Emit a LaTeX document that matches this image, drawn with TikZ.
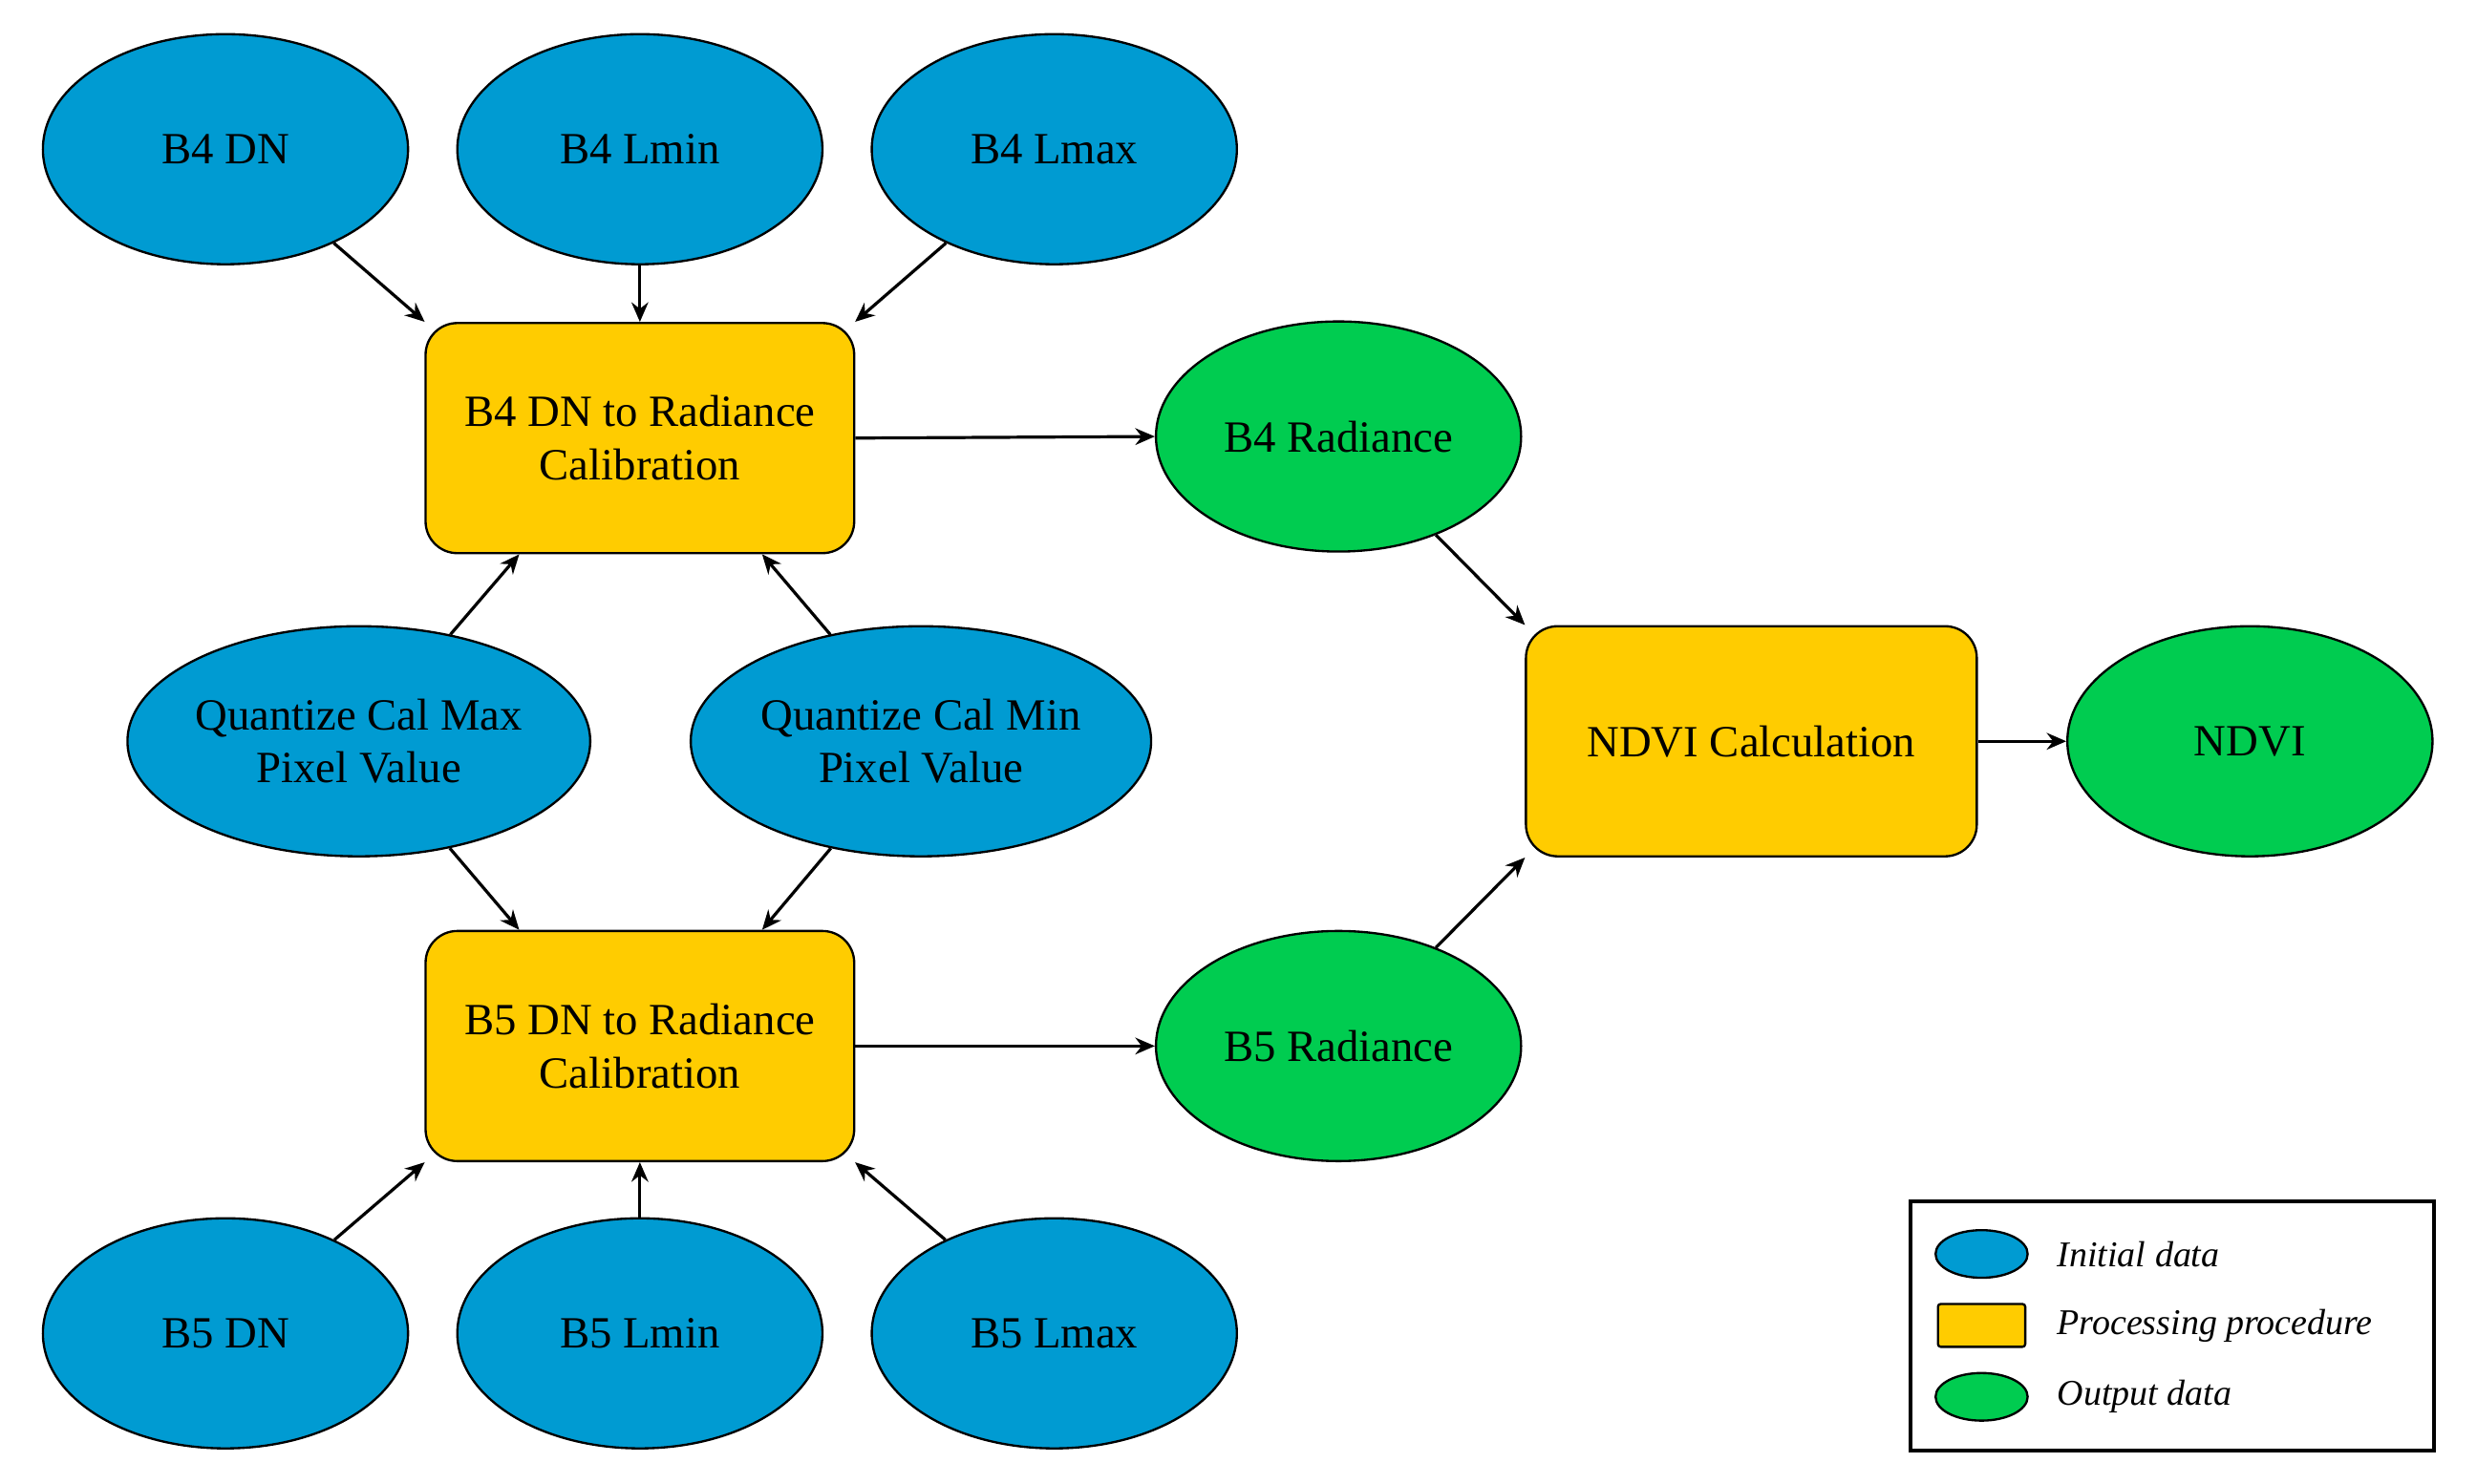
\documentclass[tikz,border=0pt]{standalone}
\usepackage{fontspec}
\setmainfont{Liberation Serif}
\usetikzlibrary{shapes.geometric,arrows.meta}
\definecolor{cblue}{RGB}{0,155,210}
\definecolor{cyel}{RGB}{255,204,0}
\definecolor{cgreen}{RGB}{0,204,80}
\begin{document}
\begin{tikzpicture}[x=0.02cm,y=-0.02cm,
  every node/.style={font=\fontsize{16}{19}\selectfont, align=center, draw=black, line width=0.8pt},
  ini/.style={ellipse, fill=cblue, minimum width=4.6cm, minimum height=2.9cm, inner sep=0pt},
  wide/.style={ini, minimum width=5.8cm},
  outd/.style={ellipse, fill=cgreen, minimum width=4.6cm, minimum height=2.9cm, inner sep=0pt},
  proc/.style={rectangle, rounded corners=0.4cm, fill=cyel, minimum width=5.4cm, minimum height=2.9cm},
  arr/.style={-{Stealth[length=7pt,width=6pt]}, line width=1.1pt},
  leg/.style={draw=none, font=\fontsize{13}{15}\selectfont\itshape, anchor=west, inner sep=0pt}]
\useasboundingbox (0,0) rectangle (1560,934.4);
\node[ini] (b4dn) at (142,94) {B4 DN};
\node[ini] (b4min) at (403,94) {B4 Lmin};
\node[ini] (b4max) at (664,94) {B4 Lmax};
\node[proc] (p4) at (403,276) {B4 DN to Radiance\\Calibration};
\node[outd] (r4) at (843,275) {B4 Radiance};
\node[wide] (qmax) at (226,467) {Quantize Cal Max\\Pixel Value};
\node[wide] (qmin) at (580,467) {Quantize Cal Min\\Pixel Value};
\node[proc] (p5) at (403,659) {B5 DN to Radiance\\Calibration};
\node[outd] (r5) at (843,659) {B5 Radiance};
\node[proc, minimum width=5.68cm] (pn) at (1103,467) {NDVI Calculation};
\node[outd] (ndvi) at (1417,467) {NDVI};
\node[ini] (b5dn) at (142,840) {B5 DN};
\node[ini] (b5min) at (403,840) {B5 Lmin};
\node[ini] (b5max) at (664,840) {B5 Lmax};

\draw[arr] (b4dn) -- ([shift={(0.14,-0.06)}]p4.north west);
\draw[arr] (b4min) -- (p4.north);
\draw[arr] (b4max) -- ([shift={(-0.14,-0.06)}]p4.north east);
\draw[arr] (qmax) -- ([xshift=-1.52cm]p4.south);
\draw[arr] (qmin) -- ([xshift=1.54cm]p4.south);
\draw[arr] (qmax) -- ([xshift=-1.52cm]p5.north);
\draw[arr] (qmin) -- ([xshift=1.54cm]p5.north);
\draw[arr] (b5dn) -- ([shift={(0.14,0.06)}]p5.south west);
\draw[arr] (b5min) -- (p5.south);
\draw[arr] (b5max) -- ([shift={(-0.14,0.06)}]p5.south east);
\draw[arr] (p4.east) -- (r4.west);
\draw[arr] (p5.east) -- (r5.west);
\draw[arr] (r4) -- ([shift={(0.1,-0.06)}]pn.north west);
\draw[arr] (r5) -- ([shift={(0.1,0.06)}]pn.south west);
\draw[arr] (pn.east) -- (ndvi.west);

\node[draw, line width=1.3pt, minimum width=6.6cm, minimum height=3.14cm, inner sep=0pt] (legbox) at (1368,835.5) {};
\node[ellipse, fill=cblue, minimum width=1.16cm, minimum height=0.6cm, inner sep=0pt] (l1) at (1248,790) {};
\node[rectangle, rounded corners=1pt, fill=cyel, minimum width=1.1cm, minimum height=0.54cm, inner sep=0pt] (l2) at (1248,835) {};
\node[ellipse, fill=cgreen, minimum width=1.16cm, minimum height=0.6cm, inner sep=0pt] (l3) at (1248,880) {};
\node[leg] (t1) at (1295,790) {Initial data};
\node[leg] (t2) at (1295,835) {Processing procedure};
\node[leg] (t3) at (1295,880) {Output data};
\end{tikzpicture}
\end{document}
